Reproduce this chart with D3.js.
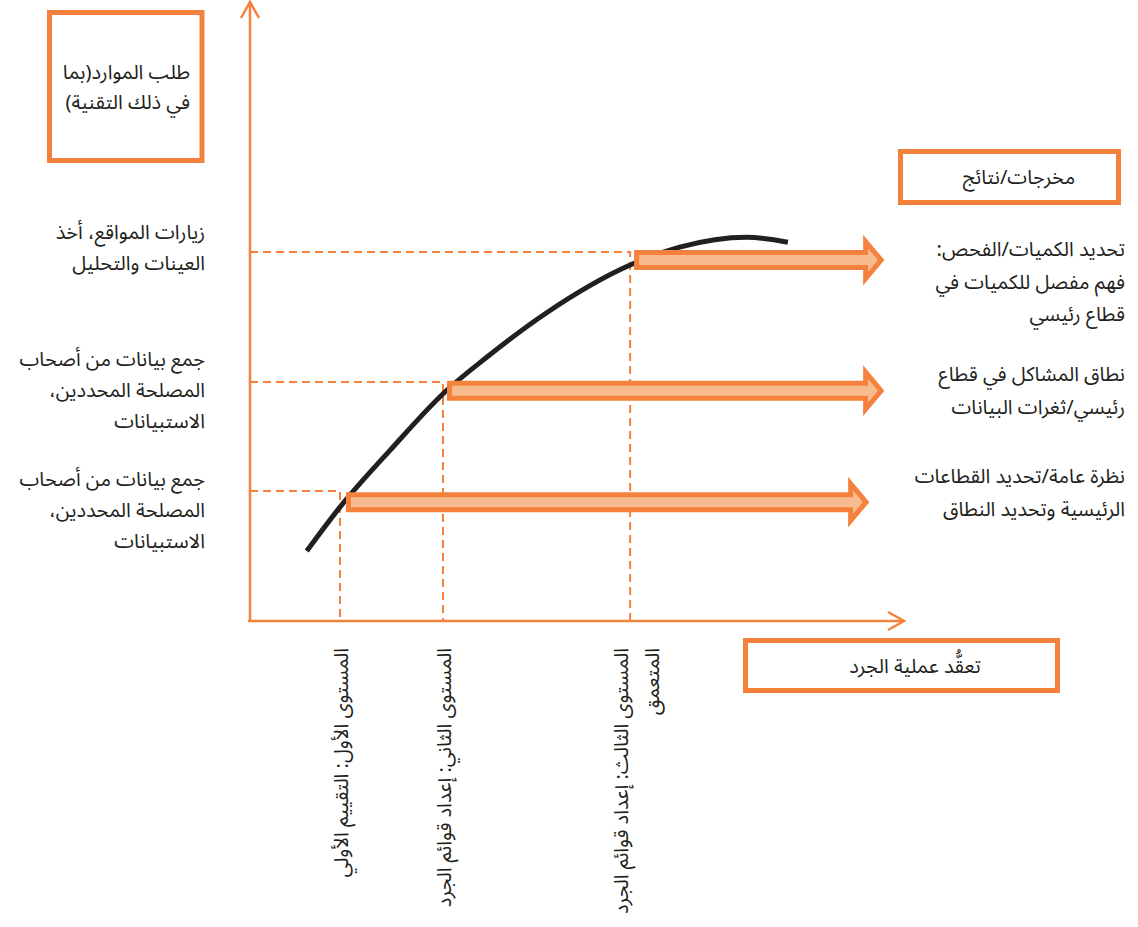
<!DOCTYPE html>
<html lang="ar">

<head>
    <meta charset="UTF-8">
    <title>تعقد عملية الجرد وطلب الموارد</title>
    <style>
        body {
            margin: 0;
            padding: 0;
            background-color: #fff;
        }

        svg text {
            font-family: "Noto Sans Arabic", "Noto Naskh Arabic", "DejaVu Sans", sans-serif;
            font-size: 20px;
            fill: #231f20;
        }

        .axis-line {
            stroke: #f4823d;
            stroke-width: 2.5px;
            fill: none;
        }

        .guide {
            stroke: #f4823d;
            stroke-width: 2px;
            stroke-dasharray: 8, 5;
            fill: none;
        }

        .box {
            fill: #fff;
            stroke: #f4823d;
            stroke-width: 5px;
        }

        .block-arrow {
            fill: #f8ba8f;
            stroke: #f4823d;
            stroke-width: 5px;
            stroke-linejoin: miter;
        }

        .curve {
            fill: none;
            stroke: #231f20;
            stroke-width: 5px;
            stroke-linecap: butt;
        }
    </style>
</head>

<body>
    <svg width="1138" height="927"></svg>

    <script src="https://d3js.org/d3.v7.min.js"></script>
    <script>
        // المستويات الثلاثة (تعقد الجرد على x، الموارد على y)
        const levelX = [13.8, 29.6, 58.3];
        const levelY = [21.0, 38.6, 59.6];

        // الأسهم نحو المخرجات
        const arrowStart = [15.1, 30.6, 59.3];
        const arrowEnd = [94.5, 96.8, 96.8];
        const arrowY = [19.2, 37.2, 58.3];

        // المنحنى
        const curveX = [8.7, 13.8, 21.5, 29.9, 36.3, 45.5, 58.3, 65.9, 76.2, 82.5];
        const curveY = [11.3, 18.4, 27.6, 37.0, 42.6, 49.8, 57.5, 60.4, 62.0, 61.2];

        // النصوص
        const inputLabels = [
            ["جمع بيانات من أصحاب", "المصلحة المحددين،", "الاستبيانات"],
            ["جمع بيانات من أصحاب", "المصلحة المحددين،", "الاستبيانات"],
            ["زيارات المواقع، أخذ", "العينات والتحليل"]
        ];
        const outputLabels = [
            ["نظرة عامة/تحديد القطاعات", "الرئيسية وتحديد النطاق"],
            ["نطاق المشاكل في قطاع", "رئيسي/ثغرات البيانات"],
            ["تحديد الكميات/الفحص:", "فهم مفصل للكميات في", "قطاع رئيسي"]
        ];
        const levelLabels = [
            ["المستوى الأول: التقييم الأولي"],
            ["المستوى الثاني: إعداد قوائم الجرد"],
            ["المستوى الثالث: إعداد قوائم الجرد", "المتعمق"]
        ];
        const yTitle = ["طلب الموارد(بما", "في ذلك التقنية)"];
        const xTitle = "تعقُّد عملية الجرد";
        const outTitle = "مخرجات/نتائج";

        const svg = d3.select("svg");
        const x = d3.scaleLinear().domain([0, 100]).range([250, 902]);
        const y = d3.scaleLinear().domain([0, 100]).range([621, 2]);

        // خطوط إرشادية متقطعة
        const guides = svg.append("g");
        levelX.forEach((lx, i) => {
            guides.append("path")
                .attr("class", "guide")
                .attr("d", `M${x(0)},${y(levelY[i])}H${x(lx)}V${y(0)}`);
        });

        // المحاور
        const axes = svg.append("g");
        axes.append("line").attr("class", "axis-line")
            .attr("x1", x(0)).attr("y1", y(0))
            .attr("x2", x(0)).attr("y2", y(100));
        axes.append("path").attr("class", "axis-line")
            .attr("d", `M${x(0) - 9},${y(100) + 16}L${x(0)},${y(100)}L${x(0) + 9},${y(100) + 16}`);
        axes.append("line").attr("class", "axis-line")
            .attr("x1", x(0) - 2).attr("y1", y(0))
            .attr("x2", x(100) + 2).attr("y2", y(0));
        axes.append("path").attr("class", "axis-line")
            .attr("d", `M${x(100) - 14},${y(0) - 9}L${x(100) + 2},${y(0)}L${x(100) - 14},${y(0) + 9}`);

        // المنحنى
        const line = d3.line()
            .x(d => x(d[0]))
            .y(d => y(d[1]))
            .curve(d3.curveMonotoneX);
        svg.append("path")
            .attr("class", "curve")
            .attr("d", line(d3.zip(curveX, curveY)));

        // الأسهم العريضة
        function blockArrow(x0, x1, yc) {
            const h = 7.5, H = 18.5, hl = 15.5;
            return `M${x0},${yc - h}L${x1 - hl},${yc - h}L${x1 - hl},${yc - H}L${x1},${yc}` +
                `L${x1 - hl},${yc + H}L${x1 - hl},${yc + h}L${x0},${yc + h}Z`;
        }
        svg.append("g").selectAll("path")
            .data(arrowY)
            .enter().append("path")
            .attr("class", "block-arrow")
            .attr("d", (d, i) => blockArrow(x(arrowStart[i]), x(arrowEnd[i]), y(d)));

        // الصناديق
        svg.append("rect").attr("class", "box")
            .attr("x", 49.5).attr("y", 12.5).attr("width", 152.5).attr("height", 148);
        svg.append("rect").attr("class", "box")
            .attr("x", 900.5).attr("y", 151.5).attr("width", 218).attr("height", 51);
        svg.append("rect").attr("class", "box")
            .attr("x", 745.5).attr("y", 640.5).attr("width", 312).attr("height", 50);

        // كتابة نص متعدد الأسطر
        function multiline(g, lines, xPos, yFirst, lh) {
            const t = g.append("text")
                .attr("direction", "rtl")
                .attr("text-anchor", "start")
                .attr("dominant-baseline", "central");
            lines.forEach((s, i) => {
                t.append("tspan").attr("x", xPos).attr("y", yFirst + i * lh).text(s);
            });
            return t;
        }

        const labels = svg.append("g");
        multiline(labels, yTitle, 190, 73, 30);

        const inputTop = [480, 360, 233];
        inputLabels.forEach((l, i) => multiline(labels, l, 205, inputTop[i], 31));

        const outputTop = [477, 375, 250];
        outputLabels.forEach((l, i) => multiline(labels, l, 1125, outputTop[i], 32.5));

        labels.append("text")
            .attr("x", 1019).attr("y", 178)
            .attr("text-anchor", "middle")
            .attr("dominant-baseline", "central")
            .text(outTitle);
        labels.append("text")
            .attr("x", 915).attr("y", 667)
            .attr("text-anchor", "middle")
            .attr("dominant-baseline", "central")
            .text(xTitle);

        // تسميات المستويات العمودية
        levelLabels.forEach((l, i) => {
            const g = labels.append("g")
                .attr("transform", `translate(${x(levelX[i])},648) rotate(-90)`);
            const t = g.append("text")
                .attr("direction", "rtl")
                .attr("text-anchor", "start")
                .attr("dominant-baseline", "central");
            l.forEach((s, j) => {
                t.append("tspan").attr("x", 0).attr("y", 2 + j * 31 - (l.length - 1) * 10).text(s);
            });
        });
    </script>
</body>

</html>
